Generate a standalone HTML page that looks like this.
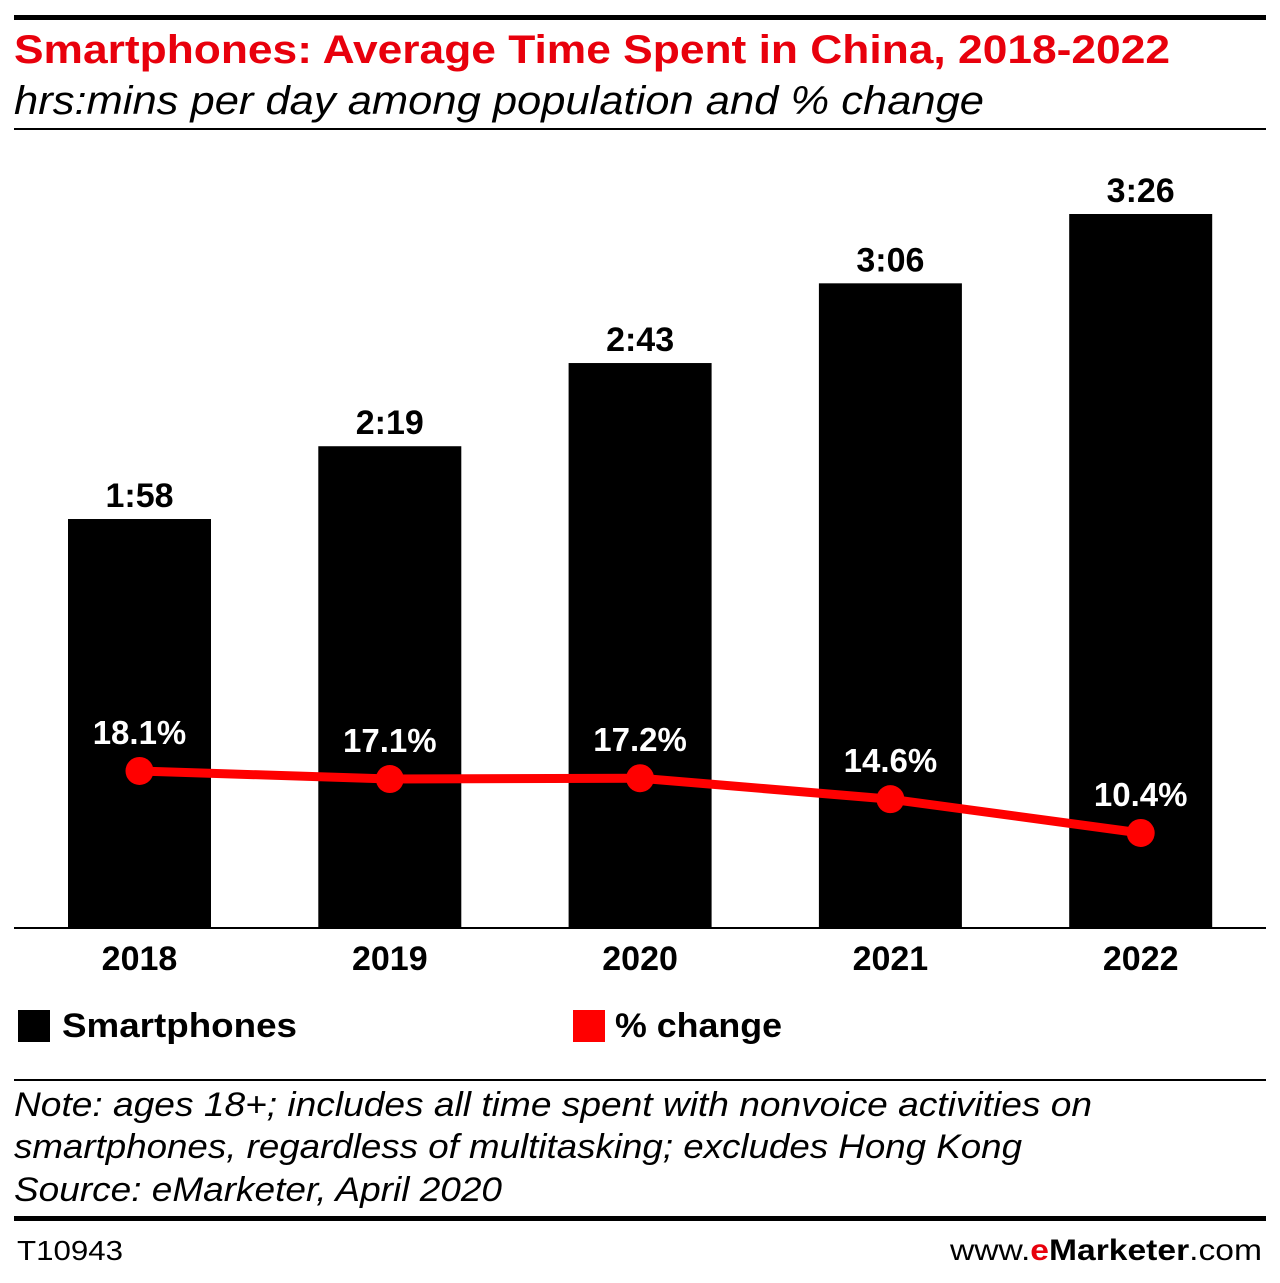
<!DOCTYPE html>
<html><head><meta charset="utf-8"><style>
html,body{margin:0;padding:0;background:#fff;}
svg{display:block;font-family:"Liberation Sans",sans-serif;}
</style></head><body>
<svg id="chart" width="1280" height="1283" viewBox="0 0 1280 1283" xmlns="http://www.w3.org/2000/svg">
<rect x="14" y="15" width="1252" height="5" fill="#000"/>
<text x="14" y="63" font-size="40" font-weight="bold" fill="#e8000c" textLength="1156" lengthAdjust="spacingAndGlyphs">Smartphones: Average Time Spent in China, 2018-2022</text>
<text x="14" y="114" font-size="40" font-style="italic" fill="#000" textLength="970" lengthAdjust="spacingAndGlyphs">hrs:mins per day among population and % change</text>
<rect x="14" y="128" width="1252" height="2" fill="#000"/>
<g id="bars"></g>
<g id="line"></g>
<rect x="14" y="927" width="1252" height="2" fill="#000"/>
<g id="xlabels"></g>
<g>
<rect x="18" y="1010" width="32" height="32" fill="#000"/>
<text x="62" y="1037" font-size="34" font-weight="bold" textLength="235" lengthAdjust="spacingAndGlyphs">Smartphones</text>
<rect x="573" y="1010" width="32" height="32" fill="#ff0000"/>
<text x="615" y="1037" font-size="34" font-weight="bold" textLength="167" lengthAdjust="spacingAndGlyphs">% change</text>
</g>
<rect x="14" y="1079" width="1252" height="2" fill="#000"/>
<g font-size="34" font-style="italic">
<text x="14" y="1116" textLength="1078" lengthAdjust="spacingAndGlyphs">Note: ages 18+; includes all time spent with nonvoice activities on</text>
<text x="14" y="1158" textLength="1008" lengthAdjust="spacingAndGlyphs">smartphones, regardless of multitasking; excludes Hong Kong</text>
<text x="14" y="1201" textLength="488" lengthAdjust="spacingAndGlyphs">Source: eMarketer, April 2020</text>
</g>
<rect x="14" y="1216" width="1252" height="5" fill="#000"/>
<text x="17" y="1260" font-size="28" textLength="106" lengthAdjust="spacingAndGlyphs">T10943</text>
<text x="1262" y="1260" font-size="30" text-anchor="end" textLength="312" lengthAdjust="spacingAndGlyphs">www.<tspan fill="#e8000c" font-weight="bold">e</tspan><tspan font-weight="bold">Marketer</tspan>.com</text>
</svg>
<script>
const years = ["2018","2019","2020","2021","2022"];
const minutes = [118,139,163,186,206];
const timeLabels = ["1:58","2:19","2:43","3:06","3:26"];
const pctChange = [18.1,17.1,17.2,14.6,10.4];
const pctLabels = ["18.1%","17.1%","17.2%","14.6%","10.4%"];

const NS="http://www.w3.org/2000/svg";
const baseY=928, pxPerMin=3.466;
const yBar=m=>baseY-m*pxPerMin;
const yPct=p=>916.7-8.05*p;
const xCenter=i=>139.5+i*250.3;
const barW=143;
function mk(tag,attrs,parent){const e=document.createElementNS(NS,tag);for(const k in attrs)e.setAttribute(k,attrs[k]);parent.appendChild(e);return e;}
const gb=document.getElementById('bars'), gl=document.getElementById('line'), gx=document.getElementById('xlabels');
years.forEach((y,i)=>{
  const top=yBar(minutes[i]);
  const r=mk('rect',{x:xCenter(i)-barW/2,y:top,width:barW,height:baseY-top,fill:'#000'},gb);
  
  
  const t=mk('text',{x:xCenter(i),y:top-12,'font-size':34,'font-weight':'bold','text-anchor':'middle'},gb);
  t.textContent=timeLabels[i];
  
  
  const xl=mk('text',{x:xCenter(i),y:970,'font-size':34,'font-weight':'bold','text-anchor':'middle'},gx);
  xl.textContent=y;
  
  
});
const pts=pctChange.map((p,i)=>xCenter(i)+','+yPct(p)).join(' ');
const pl=mk('polyline',{points:pts,fill:'none',stroke:'#ff0000','stroke-width':9,'stroke-linejoin':'round'},gl);


pctChange.forEach((p,i)=>{
  const c=mk('circle',{cx:xCenter(i),cy:yPct(p),r:14,fill:'#ff0000'},gl);
  
  
  const t=mk('text',{x:xCenter(i),y:yPct(p)-27,'font-size':33,'font-weight':'bold','text-anchor':'middle',fill:'#fff'},gl);
  t.textContent=pctLabels[i];
  
  
});
</script>
</body></html>
